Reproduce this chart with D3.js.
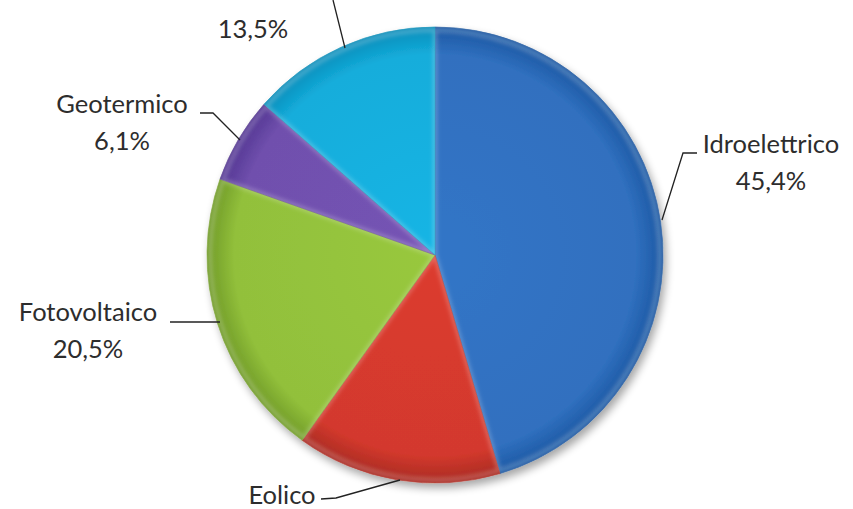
<!DOCTYPE html>
<html>
<head>
<meta charset="utf-8">
<script src="https://cdn.jsdelivr.net/npm/d3@7/dist/d3.min.js"></script>
<style>
  html, body { margin: 0; padding: 0; background: #fff; overflow: hidden; }
  svg { display: block; }
</style>
</head>
<body>
<svg id="chart" width="853" height="509"></svg>
<script>
const categories = ["Idroelettrico", "Eolico", "Fotovoltaico", "Geotermico", "Bioenergie"];
const values = [45.4, 14.5, 20.5, 6.1, 13.5];
const valueLabels = ["45,4%", "14,5%", "20,5%", "6,1%", "13,5%"];
const colors = ["#3070bf", "#d3392d", "#92c03b", "#7050ad", "#14addb"];
const rimColors = ["#1c58a3", "#a82a22", "#6f9a27", "#523592", "#0a8dba"];

const W = 853, H = 509;
const cx = 435, cy = 255, R = 228;
const svg = d3.select("#chart");
const defs = svg.append("defs");

// drop shadow
const sh = defs.append("filter").attr("id", "shadow").attr("x", "-20%").attr("y", "-20%").attr("width", "140%").attr("height", "140%");
sh.append("feGaussianBlur").attr("in", "SourceAlpha").attr("stdDeviation", 4);
sh.append("feOffset").attr("dx", 3).attr("dy", 5).attr("result", "ob");
sh.append("feComponentTransfer").append("feFuncA").attr("type", "linear").attr("slope", 0.35);
const m = sh.append("feMerge");
m.append("feMergeNode");
m.append("feMergeNode").attr("in", "SourceGraphic");

defs.append("filter").attr("id", "soft").append("feGaussianBlur").attr("stdDeviation", 2.2);

colors.forEach((c, i) => {
  const gr = defs.append("radialGradient").attr("id", "g" + i)
    .attr("gradientUnits", "userSpaceOnUse")
    .attr("cx", 0).attr("cy", 0).attr("r", R);
  gr.append("stop").attr("offset", "0%").attr("stop-color", d3.color(c).brighter(0.12));
  gr.append("stop").attr("offset", "88%").attr("stop-color", c);
  gr.append("stop").attr("offset", "100%").attr("stop-color", rimColors[i]);
});

const pie = d3.pie().sort(null).value(d => d)(values);
const arc = d3.arc().innerRadius(0).outerRadius(R);
const arcInner = d3.arc().innerRadius(0).outerRadius(R - 3);

const g = svg.append("g").attr("transform", `translate(${cx},${cy})`);
const pieG = g.append("g").attr("filter", "url(#shadow)");
pieG.selectAll("path.slice").data(pie).join("path")
  .attr("class", "slice")
  .attr("d", arc)
  .attr("fill", (d, i) => `url(#g${i})`)
  .attr("stroke", (d, i) => d3.color(colors[i]).darker(0.5))
  .attr("stroke-width", 0.6)
  .attr("stroke-linejoin", "round");

const clip = defs.selectAll("clipPath.sc").data(pie).join("clipPath")
  .attr("class", "sc").attr("id", (d, i) => "c" + i);
clip.append("path").attr("d", arc);
g.selectAll("path.bevel").data(pie).join("path")
  .attr("class", "bevel")
  .attr("d", arcInner)
  .attr("fill", "none")
  .attr("stroke", "#ffffff")
  .attr("stroke-opacity", 0.25)
  .attr("stroke-width", 4)
  .attr("filter", "url(#soft)")
  .attr("clip-path", (d, i) => `url(#c${i})`);

// labels (the reference image is cropped: only the visible lines are drawn)
const labelPos = [
  { x: 771, y: 153, showName: true,  showValue: true },
  { x: 282, y: 504, showName: true,  showValue: false },
  { x: 88,  y: 321, showName: true,  showValue: true },
  { x: 122, y: 113, showName: true,  showValue: true },
  { x: 253, y: 1,   showName: false, showValue: true }
];
const leaders = [
  [[697, 153], [683, 153], [662, 220]],
  [[321, 499], [336, 498], [400, 480]],
  [[170, 322], [220, 322]],
  [[200, 113], [213, 113], [240, 140]],
  [[333, 0], [345, 48]]
];
const lineGen = d3.line();
svg.append("g").selectAll("path").data(leaders).join("path")
  .attr("d", d => lineGen(d))
  .attr("fill", "none")
  .attr("stroke", "#222")
  .attr("stroke-width", 1.3);

const lab = svg.append("g")
  .style("font-family", "Lato, 'Open Sans', sans-serif")
  .style("font-size", "25.5px")
  .attr("fill", "#2d2d2d");
categories.forEach((c, i) => {
  const p = labelPos[i];
  const t = lab.append("text").attr("text-anchor", "middle");
  if (p.showName) t.append("tspan").attr("x", p.x).attr("y", p.y).text(c);
  if (p.showValue) t.append("tspan").attr("x", p.x).attr("y", p.y + 37).text(valueLabels[i]);
});
</script>
</body>
</html>
